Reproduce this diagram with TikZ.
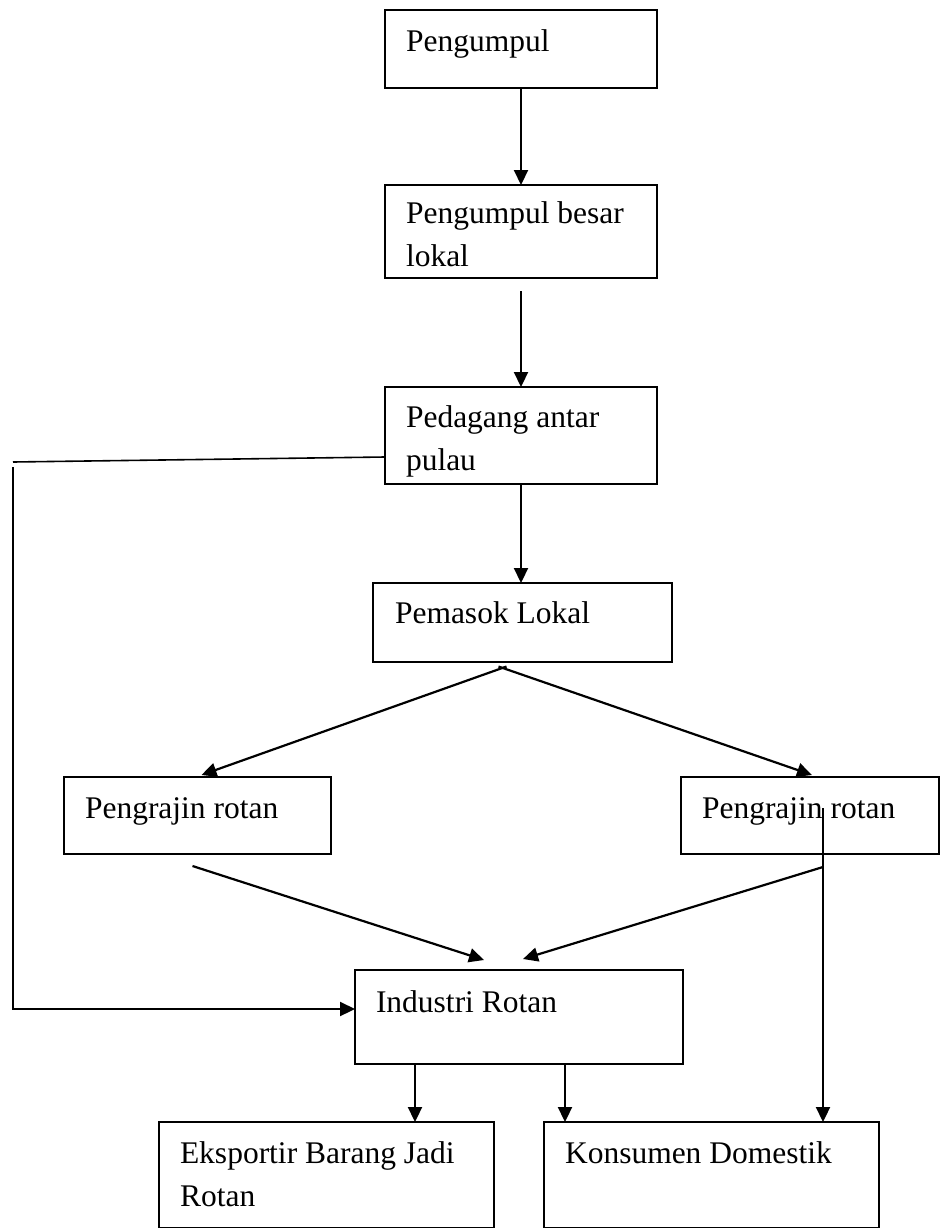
\documentclass[tikz,border=0pt]{standalone}
\usepackage{fontspec}
\setmainfont{Liberation Serif}
\usetikzlibrary{arrows.meta,calc}
\tikzset{
  box/.style={draw=black, line width=1.5pt, anchor=north west, inner sep=0pt, outer sep=0pt},
  lbl/.style={anchor=base west, inner sep=0pt, outer sep=0pt, font=\fontsize{31.5}{43}\selectfont},
  arr/.style={draw=black, line width=2.2pt, -{Triangle[length=15pt,width=14pt]}},
  plain/.style={draw=black, line width=1.6pt},
}
\newcommand{\twoline}[2]{\parbox[t]{320pt}{\raggedright #1\\#2}}
\begin{document}
\begin{tikzpicture}[x=1pt,y=-1pt]
\useasboundingbox (0,0) rectangle (940,1228);
% boxes
\node[box, minimum width=272pt, minimum height=78pt] (pg)  at (385,10)  {};
\node[box, minimum width=272pt, minimum height=93pt] (pgb) at (385,185) {};
\node[box, minimum width=272pt, minimum height=97pt] (pap) at (385,387) {};
\node[box, minimum width=299pt, minimum height=79pt] (pl)  at (373,583) {};
\node[box, minimum width=267pt, minimum height=77pt] (prl) at (64,777)  {};
\node[box, minimum width=258pt, minimum height=77pt] (prr) at (681,777) {};
\node[box, minimum width=328pt, minimum height=94pt] (ir)  at (355,970) {};
\node[box, minimum width=335pt, minimum height=106pt] (ex) at (159,1122) {};
\node[box, minimum width=335pt, minimum height=106pt] (kd) at (544,1122) {};
% texts
\node[lbl] (tpg)  at (406,52)   {Pengumpul};
\node[lbl] (tpgb) at (406,223)  {\twoline{Pengumpul besar}{lokal}};
\node[lbl] (tpap) at (406,427)  {\twoline{Pedagang antar}{pulau}};
\node[lbl] (tpl)  at (395,623)  {Pemasok Lokal};
\node[lbl] (tprl) at (85,818)   {Pengrajin rotan};
\node[lbl] (tprr) at (702,818)  {Pengrajin rotan};
\node[lbl] (tir)  at (376,1012) {Industri Rotan};
\node[lbl] (tex)  at (180,1163) {\twoline{Eksportir Barang Jadi}{Rotan}};
\node[lbl] (tkd)  at (565,1163) {Konsumen Domestik};
% connectors
\draw[arr] (pg.south) -- (pgb.north);
\coordinate (b2) at ($(pgb.south)+(0,13)$);
\draw[arr] (b2) -- (b2 |- pap.north);
\draw[arr] (pap.south) -- (pap.south |- pl.north);
\coordinate (apexl) at ($(pl.south)+(-16,4.5)$);
\coordinate (apexr) at ($(pl.south)+(-24,4.5)$);
\draw[arr] (apexl) -- ([xshift=4pt,yshift=2pt]prl.north);
\draw[arr] (apexr) -- ([xshift=2pt,yshift=2pt]prr.north);
\coordinate (l1) at ($(prl.south)+(-5,12)$);
\coordinate (t1) at ($(ir.north)+(-35,-10)$);
\draw[arr] (l1) -- (t1);
\coordinate (rv) at (823,808);
\coordinate (r1) at (823,867);
\coordinate (t2) at ($(ir.north)+(4,-11)$);
\draw[arr] (r1) -- (t2);
\draw[arr] (rv) -- (rv |- kd.north);
\coordinate (lt) at (13,462);
\coordinate (lp) at ($(pap.west)+(0,21.5)$);
\draw[plain] (lp) -- (lt);
\coordinate (lt2) at (13,467);
\coordinate (it) at ($(ir.west)+(0,-8)$);
\draw[arr] (lt2) |- (it);
\coordinate (d1) at ($(ir.south)+(-104,0)$);
\coordinate (d2) at ($(ir.south)+(46,0)$);
\draw[arr] (d1) -- (d1 |- ex.north);
\draw[arr] (d2) -- (d2 |- kd.north);
\end{tikzpicture}
\end{document}
